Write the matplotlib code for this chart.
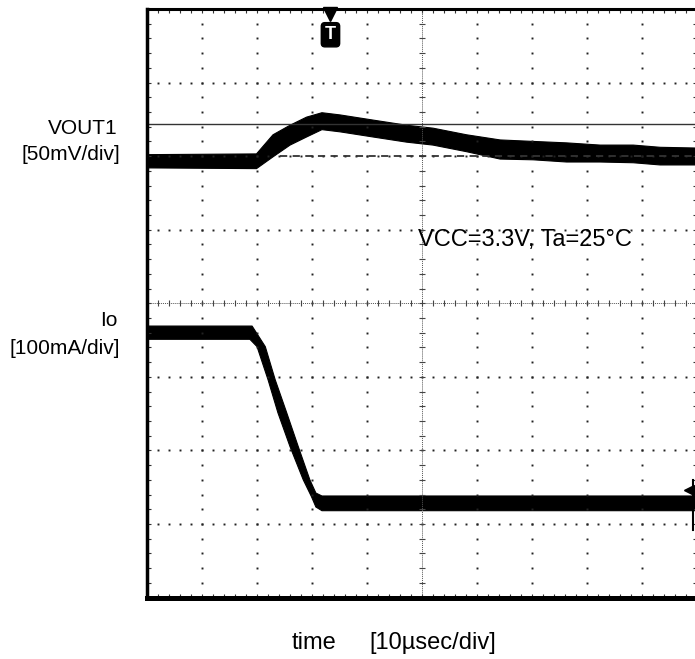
import numpy as np
import matplotlib
matplotlib.use("Agg")
import matplotlib.pyplot as plt

plt.rcParams['font.family'] = ['Liberation Sans', 'DejaVu Sans']

# time in usec (10 usec/div), amplitudes in screen divisions
vout_top_t = [0, 20.0, 23.0, 26.1, 29.1, 31.9, 35.2, 41.2, 47.3, 52.1, 58.2, 64.3, 70.3, 76.4, 82.5, 88.5, 93.4, 100]
vout_top_y = [2.02, 2.03, 2.29, 2.42, 2.53, 2.59, 2.56, 2.49, 2.42, 2.38, 2.29, 2.22, 2.20, 2.18, 2.15, 2.15, 2.12, 2.11]
vout_bot_t = [0, 20.0, 23.0, 26.1, 29.1, 31.9, 35.2, 41.2, 47.3, 52.1, 58.2, 64.3, 70.3, 76.4, 82.5, 88.5, 93.4, 100]
vout_bot_y = [1.84, 1.83, 1.99, 2.15, 2.26, 2.36, 2.33, 2.26, 2.19, 2.15, 2.06, 1.96, 1.95, 1.92, 1.92, 1.91, 1.88, 1.88]

io_top_t = [0, 19.2, 21.6, 23.4, 25.5, 27.6, 29.7, 30.8, 31.9, 100]
io_top_y = [-0.31, -0.31, -0.59, -1.04, -1.49, -1.95, -2.40, -2.58, -2.62, -2.62]
io_bot_t = [0, 18.8, 20.1, 22.1, 23.9, 26.1, 28.5, 30.0, 30.8, 31.9, 100]
io_bot_y = [-0.49, -0.49, -0.59, -1.04, -1.49, -1.95, -2.40, -2.63, -2.77, -2.82, -2.82]

vout_peak_level = 2.43     # solid cursor line
vout_base_level = 2.00     # dashed cursor line
vout_base_start = 24.3

fig = plt.figure(figsize=(6.95, 6.59), dpi=100)
ax = fig.add_axes([146.5 / 695, 61.5 / 659, 550 / 695, 588.5 / 659])
ax.set_xlim(0, 100)
ax.set_ylim(-4, 4)

# graticule: dotted major lines
for xv in np.arange(10, 100, 10):
    if xv == 50:
        continue
    ys = np.arange(-4, 4.01, 0.2)
    ax.plot(np.full_like(ys, xv), ys, ls='none', marker='s', ms=1.4, mew=0, color='#222222')
for yv in np.arange(-3, 4, 1):
    if yv == 0:
        continue
    xs = np.arange(0, 100.1, 2)
    ax.plot(xs, np.full_like(xs, yv), ls='none', marker='s', ms=1.4, mew=0, color='#222222')

# centre axes with small ticks
ax.axhline(0, color='#555555', lw=0.7, ls=(0, (1, 1)))
ax.axvline(50, color='#555555', lw=0.7, ls=(0, (1, 1)))
xs = np.arange(0, 100.1, 2)
ax.plot(xs, np.zeros_like(xs), ls='none', marker='|', ms=4, mew=0.8, color='#444444')
ys = np.arange(-4, 4.01, 0.2)
ax.plot(np.full_like(ys, 50), ys, ls='none', marker='_', ms=4, mew=0.8, color='#444444')

# cursor lines
ax.axhline(vout_peak_level, color='#333333', lw=1.0)
ax.plot([vout_base_start, 100], [vout_base_level] * 2, color='#333333', lw=1.3, ls=(0, (4, 3)))

# traces
ax.fill(vout_top_t + vout_bot_t[::-1], vout_top_y + vout_bot_y[::-1], color='black', lw=0.8)
ax.fill(io_top_t + io_bot_t[::-1], io_top_y + io_bot_y[::-1], color='black', lw=0.8)

# trigger marker
ax.plot([33.36], [3.93], marker='v', ms=10, color='black', clip_on=False)
ax.text(33.45, 3.65, 'T', color='white', fontsize=13, fontweight='bold', ha='center', va='center',
        bbox=dict(boxstyle='round,pad=0.2', fc='black', ec='black'))

# channel 2 ground marker at right edge
ax.plot([98.6], [-2.54], marker='<', ms=7, color='black', clip_on=False)
ax.plot([99.36, 99.36], [-2.40, -3.08], color='black', lw=1.5, clip_on=False)

ax.set_xticks(np.arange(0, 101, 10))
ax.set_yticks(np.arange(-4, 5, 1))
ax.set_xticks(np.arange(0, 101, 2), minor=True)
ax.set_yticks(np.arange(-4, 4.01, 0.2), minor=True)
ax.tick_params(which='both', direction='in', length=3, width=0.8, color='#333333',
               top=True, right=True, labelleft=False, labelbottom=False)
ax.spines['left'].set_linewidth(2.5)
ax.spines['bottom'].set_linewidth(3.6)
ax.spines['top'].set_linewidth(2.2)
ax.spines['right'].set_linewidth(2.5)

fs = 15
fig.text(118 / 695, 1 - 128 / 659, 'VOUT1', fontsize=fs, ha='right', va='center')
fig.text(120 / 695, 1 - 155 / 659, '[50mV/div]', fontsize=fs, ha='right', va='center')
fig.text(118 / 695, 1 - 321 / 659, 'Io', fontsize=fs, ha='right', va='center')
fig.text(120 / 695, 1 - 348 / 659, '[100mA/div]', fontsize=fs, ha='right', va='center')
ax.text(49.4, 0.86, 'VCC=3.3V, Ta=25\u00b0C', fontsize=17, ha='left', va='center')
fig.text(292 / 695, 1 - 643 / 659, 'time', fontsize=17, ha='left', va='center')
fig.text(369 / 695, 1 - 643 / 659, '[10\u00b5sec/div]', fontsize=17, ha='left', va='center')

fig.savefig('out.png', dpi=100)
